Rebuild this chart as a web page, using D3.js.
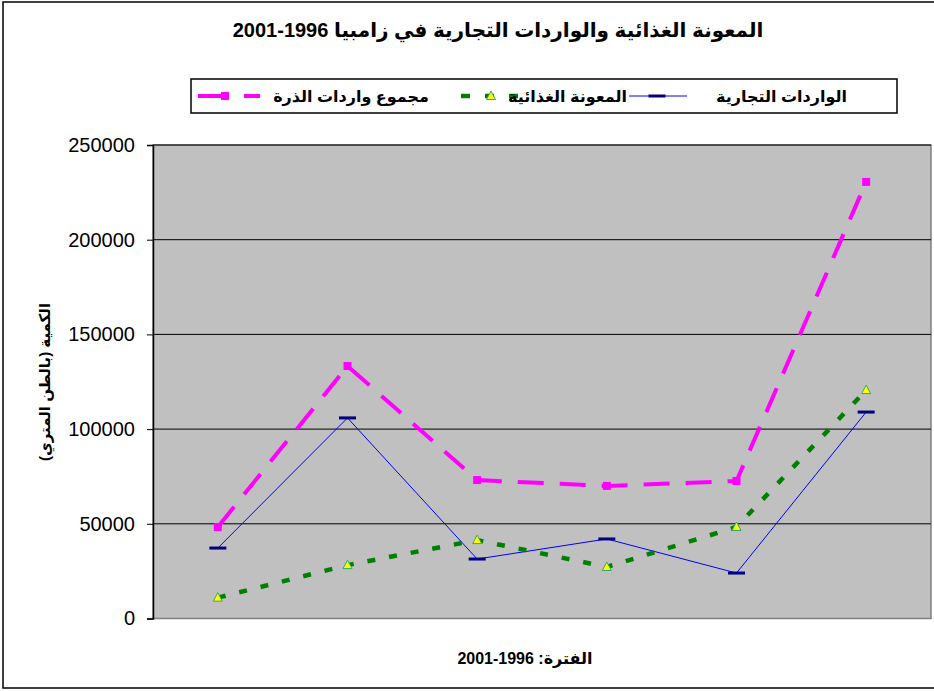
<!DOCTYPE html>
<html>
<head>
<meta charset="utf-8">
<script src="https://d3js.org/d3.v7.min.js"></script>
<style>
  body { margin: 0; background: #fff; }
  svg text { font-family: Arial, "Liberation Sans", "DejaVu Sans", sans-serif; }
</style>
</head>
<body>
<svg id="chart" width="934" height="691"></svg>
<script>
// values (tonnes)
var years = ["1996", "1997", "1998", "1999", "2000", "2001"];
var commercial = [37200, 105900, 31400, 42000, 24000, 109000];
var foodAid = [11000, 28200, 41400, 27200, 48300, 120600];
var totalMaize = [48300, 133300, 73100, 70000, 72600, 230500];
var yTicks = [0, 50000, 100000, 150000, 200000, 250000];

var titleText = "المعونة الغذائية والواردات التجارية في زامبيا 1996-2001";
var xTitle = "الفترة: 1996-2001";
var yTitle = "الكمية (بالطن المتري)";

var svg = d3.select("#chart"),
	width = 934,
	height = 691,
	plot = { left: 153, right: 931, top: 145, bottom: 618.5 };

var x = d3.scalePoint()
	.domain(years)
	.range([plot.left, plot.right])
	.padding(0.5);

var y = d3.scaleLinear()
	.domain([0, 250000])
	.range([plot.bottom, plot.top]);

// outer frame
svg.append("rect")
	.attr("x", 3).attr("y", 2)
	.attr("width", 960).attr("height", 686)
	.attr("fill", "#fff")
	.attr("stroke", "#000").attr("stroke-width", 1.5);

// plot area
svg.append("rect")
	.attr("x", plot.left).attr("y", plot.top)
	.attr("width", plot.right - plot.left).attr("height", plot.bottom - plot.top)
	.attr("fill", "#c0c0c0")
	.attr("stroke", "#808080").attr("stroke-width", 1.5);

// gridlines
svg.append("g")
	.selectAll("line")
	.data(yTicks.filter(function (d) { return d > 0; }))
	.join("line")
	.attr("x1", plot.left).attr("x2", plot.right)
	.attr("y1", function (d) { return y(d); })
	.attr("y2", function (d) { return y(d); })
	.attr("stroke", "#000").attr("stroke-width", 1);

// y axis
var yAxis = svg.append("g")
	.attr("transform", "translate(" + plot.left + ",0)")
	.call(d3.axisLeft(y).tickValues(yTicks).tickSize(6).tickPadding(12).tickFormat(d3.format("d")));
yAxis.select(".domain").attr("stroke", "#000").attr("stroke-width", 1.5);
yAxis.selectAll(".tick line").attr("stroke", "#000");
yAxis.selectAll(".tick text")
	.attr("font-size", 20)
	.attr("fill", "#000")
	.style("font-family", "Arial, 'Liberation Sans', sans-serif");

// series
var series = [
	{ name: "مجموع واردات الذرة", values: totalMaize, color: "#ff00ff", width: 4, dash: "26,16", marker: "square" },
	{ name: "المعونة الغذائية", values: foodAid, color: "#008000", width: 4.5, dash: "8,14", marker: "triangle" },
	{ name: "الواردات التجارية", values: commercial, color: "#0000ff", width: 1, dash: null, marker: "bar" }
];

var line = d3.line()
	.x(function (d, i) { return x(years[i]); })
	.y(function (d) { return y(d); });

function drawMarker(g, type, cx, cy) {
	if (type === "square") {
		g.append("rect")
			.attr("x", cx - 4).attr("y", cy - 4)
			.attr("width", 8).attr("height", 8)
			.attr("fill", "#ff00ff");
	} else if (type === "triangle") {
		g.append("path")
			.attr("d", "M" + cx + "," + (cy - 5) + "L" + (cx + 4.5) + "," + (cy + 3.5) + "L" + (cx - 4.5) + "," + (cy + 3.5) + "Z")
			.attr("fill", "#ffff00")
			.attr("stroke", "#33aa66").attr("stroke-width", 1);
	} else {
		g.append("rect")
			.attr("x", cx - 8.5).attr("y", cy - 1.5)
			.attr("width", 17).attr("height", 3)
			.attr("fill", "#000080");
	}
}

// draw blue first, then green, then magenta on top
[series[2], series[1], series[0]].forEach(function (s) {
	var g = svg.append("g");
	g.append("path")
		.datum(s.values)
		.attr("d", line)
		.attr("fill", "none")
		.attr("stroke", s.color)
		.attr("stroke-width", s.width)
		.attr("stroke-dasharray", s.dash);
	s.values.forEach(function (v, i) {
		drawMarker(g, s.marker, x(years[i]), y(v));
	});
});

// title
svg.append("text")
	.attr("x", 498).attr("y", 37)
	.attr("text-anchor", "middle")
	.attr("direction", "rtl")
	.attr("font-size", 20)
	.attr("font-weight", "bold")
	.text(titleText);

// legend
var legend = svg.append("g");
legend.append("rect")
	.attr("x", 191).attr("y", 79)
	.attr("width", 706).attr("height", 34)
	.attr("fill", "#fff")
	.attr("stroke", "#000").attr("stroke-width", 1.5);

// symbol left edge and text right edge for each legend entry
var legendPos = [
	{ sym: 198, text: 429 },
	{ sym: 461, text: 627 },
	{ sym: 629, text: 847 }
];
var ly = 96;

series.forEach(function (s, i) {
	var p = legendPos[i];
	var g = legend.append("g");
	if (s.marker === "square") {
		g.append("line").attr("x1", p.sym).attr("x2", p.sym + 62)
			.attr("y1", ly).attr("y2", ly)
			.attr("stroke", s.color).attr("stroke-width", 4)
			.attr("stroke-dasharray", "30,16");
		drawMarker(g, s.marker, p.sym + 27, ly);
	} else if (s.marker === "triangle") {
		g.append("line").attr("x1", p.sym).attr("x2", p.sym + 60)
			.attr("y1", ly).attr("y2", ly)
			.attr("stroke", s.color).attr("stroke-width", 4.5)
			.attr("stroke-dasharray", "9,15");
		drawMarker(g, s.marker, p.sym + 30, ly);
	} else {
		g.append("line").attr("x1", p.sym).attr("x2", p.sym + 58)
			.attr("y1", ly).attr("y2", ly)
			.attr("stroke", s.color).attr("stroke-width", 1);
		drawMarker(g, s.marker, p.sym + 28, ly);
	}
	g.append("text")
		.attr("x", p.text).attr("y", ly + 6)
		.attr("text-anchor", "start")
		.attr("direction", "rtl")
		.attr("font-size", 16)
		.attr("font-weight", "bold")
		.text(s.name);
});

// axis titles
svg.append("text")
	.attr("x", 525).attr("y", 664)
	.attr("text-anchor", "middle")
	.attr("direction", "rtl")
	.attr("font-size", 16)
	.attr("font-weight", "bold")
	.text(xTitle);

svg.append("text")
	.attr("transform", "translate(50,382) rotate(-90)")
	.attr("text-anchor", "middle")
	.attr("direction", "rtl")
	.attr("font-size", 15)
	.attr("font-weight", "bold")
	.text(yTitle);
</script>
</body>
</html>
